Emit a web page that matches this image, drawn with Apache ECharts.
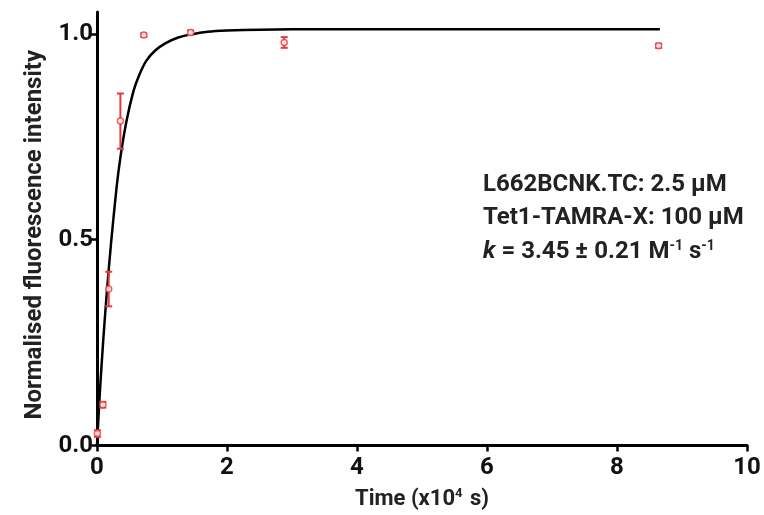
<!DOCTYPE html>
<html>
<head>
<meta charset="utf-8">
<script src="https://cdn.jsdelivr.net/npm/echarts@6/dist/echarts.min.js"></script>
<style>html,body{margin:0;padding:0;background:#fff;}#c{width:764px;height:515px;}</style>
</head>
<body>
<div id="c"></div>
<script>
// Measured points (time in 10^4 s)
const timeX = [0.006, 0.09, 0.18, 0.36, 0.72, 1.44, 2.88, 8.64];
const meanY = [0.029, 0.099, 0.38, 0.788, 0.997, 1.003, 0.979, 0.971];
const errY  = [0.008, 0.007, 0.042, 0.067, 0.004, 0.005, 0.013, 0.005];
// Fitted curve
const fitX = [0, 0.02, 0.05, 0.1, 0.15, 0.215, 0.3, 0.36, 0.45, 0.56, 0.65, 0.76, 0.9, 1.05, 1.25, 1.43, 1.7, 2.0, 2.5, 3.0, 5.0, 8.66];
const fitY = [0, 0.06, 0.145, 0.265, 0.37, 0.49, 0.625, 0.70, 0.785, 0.86, 0.90, 0.935, 0.96, 0.977, 0.991, 0.998, 1.005, 1.008, 1.010, 1.011, 1.011, 1.011];
const yTicks = [0, 0.5, 1.0];
const annotation = [
  'L662BCNK.TC: 2.5 μM',
  'Tet1-TAMRA-X: 100 μM',
  '{it|k} = 3.45 ± 0.21 M{sup|-1} s{sup|-1}'
];

const RED = '#e8393b';
const FONT = 'Roboto';
const chart = echarts.init(document.getElementById('c'), null, {renderer: 'canvas'});

const pts = timeX.map((x, i) => [x, meanY[i], errY[i]]);
const fit = fitX.map((x, i) => [x, fitY[i]]);

chart.setOption({
  animation: false,
  backgroundColor: '#fff',
  grid: {left: 97, right: 17, top: 12, bottom: 68, containLabel: false},
  xAxis: {
    type: 'value', min: 0, max: 10, interval: 2,
    axisLine: {show: true, lineStyle: {color: '#000', width: 3}},
    axisTick: {show: true, length: 6, lineStyle: {color: '#000', width: 2.5}},
    splitLine: {show: false},
    axisLabel: {color: '#111', fontFamily: FONT, fontWeight: 'bold', fontSize: 24, margin: 10},
    name: 'Time (x10{sup|4} s)',
    nameLocation: 'middle', nameGap: 42,
    nameTextStyle: {
      color: '#222', fontFamily: FONT, fontWeight: 'bold', fontSize: 22,
      rich: {sup: {fontFamily: FONT, fontWeight: 'bold', fontSize: 13, verticalAlign: 'top', padding: [0, 2, 10, 0], color: '#222'}}
    }
  },
  yAxis: {
    type: 'value', min: 0, max: 1.053,
    axisLine: {show: true, lineStyle: {color: '#000', width: 3}},
    axisTick: {show: true, length: 6, lineStyle: {color: '#000', width: 2.5}, customValues: yTicks},
    splitLine: {show: false},
    axisLabel: {color: '#111', fontFamily: FONT, fontWeight: 'bold', fontSize: 24, margin: 4,
      customValues: yTicks, formatter: v => v.toFixed(1)},
    name: 'Normalised fluorescence intensity',
    nameLocation: 'middle', nameGap: 50,
    nameTextStyle: {color: '#222', fontFamily: FONT, fontWeight: 'bold', fontSize: 24, padding: [0, 12, 0, 0]}
  },
  series: [
    {
      type: 'line', data: fit, smooth: 0.2, showSymbol: false, symbol: 'none',
      lineStyle: {color: '#000', width: 2.5}, z: 2, silent: true
    },
    {
      type: 'custom', data: pts, z: 3, encode: {x: 0, y: 1},
      renderItem: function (params, api) {
        const x = api.value(0), y = api.value(1), e = api.value(2);
        const t = api.coord([x, y + e]);
        const b = api.coord([x, y - e]);
        const hw = 3.5;
        const st = {stroke: RED, lineWidth: 2};
        return {type: 'group', children: [
          {type: 'line', shape: {x1: t[0], y1: t[1], x2: b[0], y2: b[1]}, style: st},
          {type: 'line', shape: {x1: t[0] - hw, y1: t[1], x2: t[0] + hw, y2: t[1]}, style: st},
          {type: 'line', shape: {x1: b[0] - hw, y1: b[1], x2: b[0] + hw, y2: b[1]}, style: st}
        ]};
      }
    },
    {
      type: 'scatter', data: pts.map(p => [p[0], p[1]]), symbol: 'circle', symbolSize: 6, z: 4,
      itemStyle: {color: '#fff', borderColor: RED, borderWidth: 1.5}
    }
  ],
  graphic: annotation.map((t, i) => ({
    type: 'text', left: 483, top: 173 + i * 33, silent: true,
    style: {
      text: t, fill: '#222', font: 'bold 24px ' + FONT,
      rich: {
        it: {fontStyle: 'italic', fontWeight: 'bold', fontSize: 24, fontFamily: FONT, fill: '#222'},
        sup: {fontWeight: 'bold', fontSize: 14, fontFamily: FONT, verticalAlign: 'top', padding: [0, 0, 12, 0], fill: '#222'}
      }
    }
  }))
});
</script>
</body>
</html>
